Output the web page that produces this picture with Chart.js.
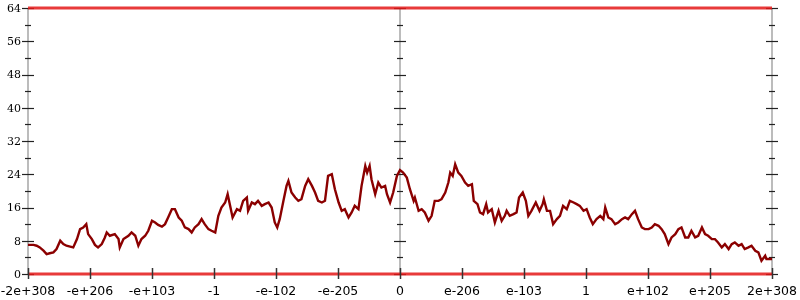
<!DOCTYPE html>
<html>
<head>
  <meta charset="utf-8"/>
  <script src="https://cdn.jsdelivr.net/npm/chart.js@4/dist/chart.umd.min.js"></script>
  <style>
    html, body { margin: 0; padding: 0; background: #ffffff; }
    #wrap { width: 800px; height: 300px; }
  </style>
</head>
<body>
  <div id="wrap"><canvas id="chart" width="800" height="300"></canvas></div>
  <script>
    // x positions are in tick-index units: -6 = -2e+308, 0 = 0, 6 = 2e+308
    var tickLabels = ["-2e+308", "-e+206", "-e+103", "-1", "-e-102", "-e-205", "0",
                      "e-206", "e-103", "1", "e+102", "e+205", "2e+308"];
    var yTicks = [0, 8, 16, 24, 32, 40, 48, 56, 64];

    var posX = [
      -6.00, -5.91, -5.86, -5.81, -5.75, -5.70, -5.65, -5.59, -5.54, -5.48,
      -5.43, -5.38, -5.32, -5.27, -5.21, -5.16, -5.11, -5.06, -5.03, -4.97,
      -4.92, -4.87, -4.81, -4.76, -4.73, -4.68, -4.60, -4.54, -4.52, -4.46,
      -4.38, -4.33, -4.27, -4.22, -4.17, -4.11, -4.06, -4.00, -3.95, -3.90,
      -3.84, -3.79, -3.74, -3.68, -3.63, -3.57, -3.52, -3.47, -3.41, -3.36,
      -3.31, -3.25, -3.20, -3.15, -3.09, -3.04, -2.98, -2.93, -2.88, -2.82,
      -2.78, -2.74, -2.70, -2.63, -2.58, -2.53, -2.47, -2.45, -2.39, -2.34,
      -2.29, -2.23, -2.18, -2.12, -2.07, -2.02, -1.98, -1.94, -1.88, -1.83,
      -1.80, -1.75, -1.69, -1.64, -1.59, -1.53, -1.48, -1.42, -1.37, -1.32,
      -1.26, -1.21, -1.16, -1.10, -1.05, -0.99, -0.94, -0.89, -0.83, -0.78,
      -0.73, -0.67, -0.62, -0.56, -0.53, -0.49, -0.46, -0.40, -0.35, -0.30,
      -0.24, -0.21, -0.16, -0.11, -0.05, 0.00,
      0.05, 0.11, 0.16, 0.22, 0.24, 0.30, 0.35, 0.40, 0.46, 0.51,
      0.56, 0.62, 0.67, 0.73, 0.78, 0.81, 0.85, 0.89, 0.94, 0.99,
      1.05, 1.10, 1.16, 1.19, 1.25, 1.29, 1.34, 1.39, 1.42, 1.48,
      1.53, 1.59, 1.64, 1.69, 1.72, 1.77, 1.83, 1.88, 1.92, 1.98,
      2.03, 2.07, 2.12, 2.19, 2.25, 2.30, 2.32, 2.37, 2.42, 2.47,
      2.53, 2.58, 2.63, 2.69, 2.74, 2.80, 2.85, 2.90, 2.96, 3.01,
      3.06, 3.11, 3.17, 3.23, 3.28, 3.31, 3.36, 3.41, 3.47, 3.52,
      3.58, 3.63, 3.68, 3.74, 3.79, 3.84, 3.90, 3.95, 4.01, 4.06,
      4.11, 4.17, 4.22, 4.27, 4.33, 4.38, 4.44, 4.49, 4.54, 4.60,
      4.65, 4.70, 4.76, 4.81, 4.87, 4.92, 4.97, 5.03, 5.08, 5.13,
      5.19, 5.24, 5.30, 5.35, 5.40, 5.46, 5.51, 5.56, 5.62, 5.67,
      5.73, 5.78, 5.83, 5.89, 5.91, 5.97, 6.00
    ];
    var count = [
      7.0, 7.0, 6.8, 6.4, 5.6, 4.8, 5.0, 5.2, 6.0, 8.0,
      7.2, 6.8, 6.6, 6.4, 8.4, 10.8, 11.2, 12.0, 9.6, 8.4,
      7.0, 6.4, 7.2, 8.8, 10.0, 9.2, 9.6, 8.4, 6.4, 8.4,
      9.2, 10.0, 9.2, 6.8, 8.4, 9.2, 10.4, 12.8, 12.4, 11.8,
      11.4, 12.0, 13.6, 15.6, 15.6, 13.6, 12.8, 11.2, 10.8, 10.0,
      11.2, 12.0, 13.2, 12.0, 10.8, 10.4, 10.0, 14.0, 16.0, 17.2,
      19.2, 16.4, 13.6, 15.6, 15.2, 17.6, 18.4, 15.2, 17.2, 16.8,
      17.6, 16.4, 16.8, 17.2, 16.0, 12.4, 11.2, 13.2, 17.6, 21.2,
      22.4, 19.6, 18.4, 17.6, 18.0, 21.2, 22.8, 21.2, 19.6, 17.6,
      17.2, 17.6, 23.6, 24.0, 20.4, 17.2, 15.2, 15.6, 13.6, 14.8,
      16.4, 15.6, 21.2, 26.0, 24.4, 26.0, 22.8, 19.2, 22.0, 20.8,
      21.2, 19.2, 17.2, 19.6, 23.6, 25.0,
      24.4, 23.2, 20.4, 17.6, 18.4, 15.2, 15.6, 14.8, 12.8, 14.0,
      17.6, 17.6, 18.0, 19.6, 22.0, 24.4, 23.6, 26.4, 24.4, 23.6,
      22.0, 21.2, 21.6, 17.6, 16.8, 14.8, 14.4, 16.8, 14.8, 15.6,
      12.4, 15.2, 12.8, 14.0, 15.2, 14.0, 14.4, 14.8, 18.4, 19.6,
      17.6, 14.0, 15.2, 17.2, 15.2, 16.8, 18.0, 15.2, 15.2, 12.0,
      13.2, 14.0, 16.4, 15.6, 17.6, 17.2, 16.8, 16.4, 15.2, 15.6,
      13.6, 12.0, 13.2, 14.0, 13.2, 16.0, 13.6, 13.2, 12.0, 12.4,
      13.2, 13.6, 13.2, 14.4, 15.2, 13.2, 11.2, 10.8, 10.8, 11.2,
      12.0, 11.6, 10.8, 9.6, 7.2, 8.8, 9.6, 10.8, 11.2, 8.8,
      8.8, 10.4, 8.8, 9.2, 11.2, 9.6, 9.2, 8.4, 8.4, 7.6,
      6.4, 7.2, 6.0, 7.2, 7.6, 6.8, 7.2, 6.0, 6.4, 6.8,
      5.6, 5.2, 3.2, 4.4, 3.6, 3.6, 3.6
    ];
    var edgeLevels = [0, 64];

    var points = posX.map(function(x, i) { return { x: x, y: count[i] }; });

    function edgeLine(level) {
      return {
        data: [{ x: -6, y: level }, { x: 6, y: level }],
        borderColor: "rgba(228, 24, 24, 0.85)",
        borderWidth: 3,
        pointRadius: 0,
        clip: false
      };
    }

    var axesPlugin = {
      id: "axes",
      beforeDatasetsDraw: function(chart) {
        var ctx = chart.ctx, xs = chart.scales.x, ys = chart.scales.y;
        var top = ys.getPixelForValue(64), bottom = ys.getPixelForValue(0);
        ctx.save();
        // vertical axis lines at left, centre and right
        [-6, 0, 6].forEach(function(v) {
          var px = Math.round(xs.getPixelForValue(v));
          ctx.strokeStyle = "#bcbcbc";
          ctx.lineWidth = 2;
          ctx.beginPath();
          ctx.moveTo(px, top);
          ctx.lineTo(px, bottom);
          ctx.stroke();
          ctx.strokeStyle = "#222";
          ctx.lineWidth = 1.2;
          for (var t = 0; t <= 64; t += 4) {
            var py = Math.round(ys.getPixelForValue(t)) + 0.5;
            var half = (t % 8 === 0) ? 6 : 3;
            ctx.beginPath();
            ctx.moveTo(px - half, py);
            ctx.lineTo(px + half, py);
            ctx.stroke();
          }
        });
        // y labels
        ctx.fillStyle = "#000";
        ctx.font = "11px 'DejaVu Serif'";
        ctx.textAlign = "right";
        ctx.textBaseline = "middle";
        yTicks.forEach(function(t) {
          ctx.fillText(String(t), xs.getPixelForValue(-6) - 7, ys.getPixelForValue(t) + 1);
        });
        // x labels
        ctx.font = "12.5px 'DejaVu Sans'";
        ctx.textAlign = "center";
        ctx.textBaseline = "alphabetic";
        tickLabels.forEach(function(lbl, i) {
          ctx.fillText(lbl, xs.getPixelForValue(i - 6), 295);
        });
        ctx.restore();
      },
      afterDatasetsDraw: function(chart) {
        var ctx = chart.ctx, xs = chart.scales.x, ys = chart.scales.y;
        var py = ys.getPixelForValue(0);
        ctx.save();
        ctx.strokeStyle = "#333";
        ctx.lineWidth = 1.5;
        tickLabels.forEach(function(lbl, i) {
          var px = Math.round(xs.getPixelForValue(i - 6)) + 0.5;
          ctx.beginPath();
          ctx.moveTo(px, py - 6);
          ctx.lineTo(px, py + 5);
          ctx.stroke();
        });
        ctx.restore();
      }
    };

    new Chart(document.getElementById("chart"), {
      type: "line",
      data: {
        datasets: [
          edgeLine(edgeLevels[0]),
          edgeLine(edgeLevels[1]),
          {
            data: points,
            borderColor: "#8b0000",
            borderWidth: 2.4,
            pointRadius: 0,
            tension: 0
          }
        ]
      },
      options: {
        responsive: false,
        animation: false,
        layout: { padding: { left: 28, right: 28, top: 8, bottom: 26 } },
        plugins: { legend: { display: false }, tooltip: { enabled: false } },
        scales: {
          x: { type: "linear", min: -6, max: 6, display: false },
          y: { type: "linear", min: 0, max: 64, display: false }
        }
      },
      plugins: [axesPlugin]
    });
  </script>
</body>
</html>
